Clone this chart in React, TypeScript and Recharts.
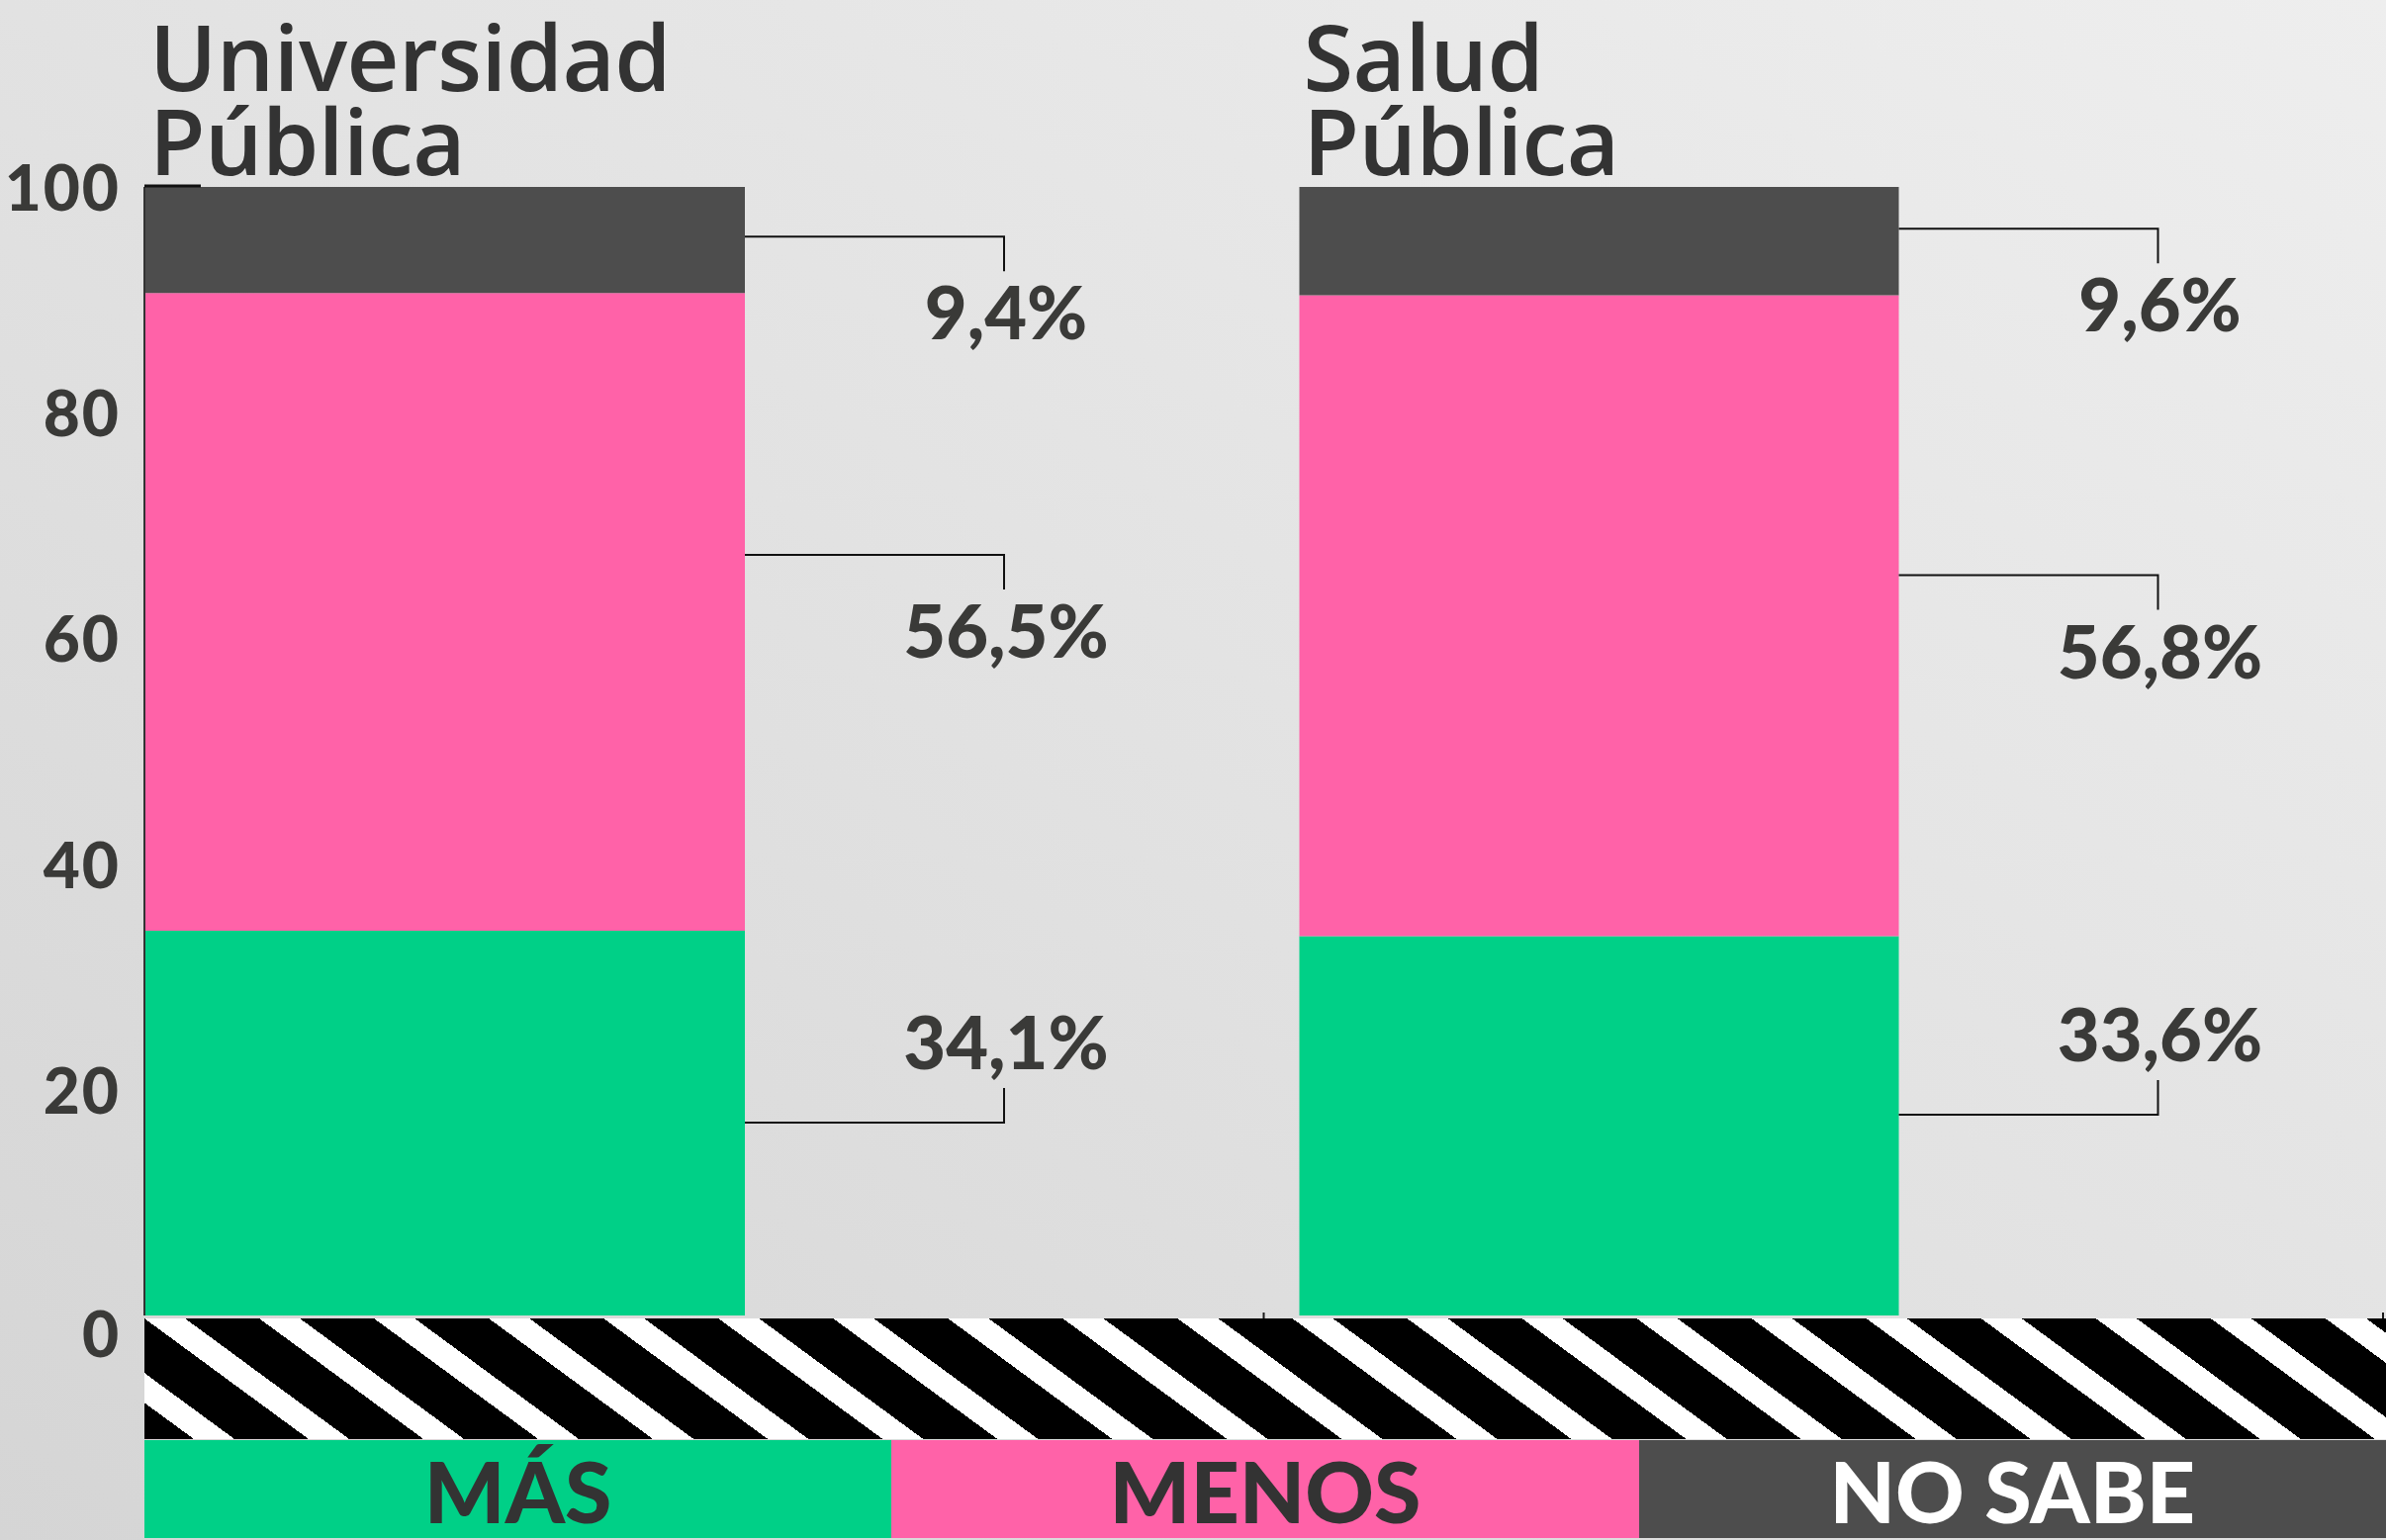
import React from 'react';
import { BarChart, Bar, XAxis, YAxis, LabelList } from 'recharts';

// ---------- data ----------
const categories = ['Universidad Pública', 'Salud Pública'];
const mas = [34.1, 33.6];
const menos = [56.5, 56.8];
const noSabe = [9.4, 9.6];
// levels (in % units) where each leader line leaves its bar segment
const anchorMas = [17.1, 17.8];
const anchorMenos = [67.4, 65.6];
const anchorNoSabe = [95.6, 96.3];
const yTicks = [0, 20, 40, 60, 80, 100];
const seriesNames = ['MÁS', 'MENOS', 'NO SABE'];

// ---------- style ----------
const W = 2412;
const H = 1557;
const GREEN = '#00d087';
const PINK = '#ff62a8';
const GRAY = '#4d4d4d';
const TEXT = '#3a3a38';
const MARGIN = { top: 189, right: 3, bottom: 197, left: 0 };
const YAXIS_W = 146;
const PLOT_W = W - MARGIN.left - YAXIS_W - MARGIN.right;
const HALF_BAND = PLOT_W / categories.length / 2;
const BAR_SIZE = 606;
const LEADER_LEN = 262;

const data = categories.map((name, i) => ({
  name,
  mas: mas[i],
  menos: menos[i],
  noSabe: noSabe[i],
}));

const starts = {
  mas: categories.map(() => 0),
  menos: categories.map((_, i) => mas[i]),
  noSabe: categories.map((_, i) => mas[i] + menos[i]),
};

const fmt = (v: number) => v.toFixed(1).replace('.', ',') + '%';

const box = (props: any) => {
  const vb = props.viewBox && props.viewBox.width !== undefined ? props.viewBox : props;
  return {
    x: Number(vb.x),
    y: Number(vb.y),
    width: Number(vb.width),
    height: Number(vb.height),
  };
};

const makeLeader =
  (values: number[], anchors: number[], segStarts: number[], dir: 'up' | 'down') =>
  (props: any) => {
    const index = props.index ?? 0;
    const { x, y, width, height } = box(props);
    const v = values[index];
    if (!isFinite(x) || !isFinite(y) || !v) return null;
    const ppu = height / v;
    const ay = y + height - (anchors[index] - segStarts[index]) * ppu;
    const x0 = x + width;
    const x1 = x0 + LEADER_LEN;
    const y1 = dir === 'up' ? ay - 35 : ay + 35;
    const ty = dir === 'up' ? ay - 54 : ay + 104;
    return (
      <g>
        <path d={`M${x0},${ay}H${x1}V${y1}`} stroke="#111" strokeWidth={2} fill="none" />
        <text
          x={x1 + 2}
          y={ty}
          textAnchor="middle"
          fontFamily="Lato, 'Open Sans', sans-serif"
          fontWeight={900}
          fontSize={74}
          fill={TEXT}
        >
          {fmt(v)}
        </text>
      </g>
    );
  };

const TitleLabel = (props: any) => {
  const index = props.index ?? 0;
  const { x, y } = box(props);
  if (!isFinite(x) || !isFinite(y)) return null;
  const words = categories[index].split(' ');
  const first = words[0];
  const rest = words.slice(1).join(' ');
  const common = {
    fontFamily: "'Open Sans', sans-serif",
    fontWeight: 600,
    fontSize: 92,
    fill: '#333333',
    letterSpacing: -0.5,
    textAnchor: 'start' as const,
  };
  return (
    <g>
      <text x={x + 4} y={y - 97} {...common}>
        {first}
      </text>
      <text x={x + 4} y={y - 12} {...common}>
        {rest}
      </text>
    </g>
  );
};

const YTick = (props: any) => {
  const { x, y, payload } = props;
  const v = payload.value;
  const top = v === yTicks[yTicks.length - 1];
  return (
    <g>
      {top && <line x1={x + 24} x2={x + 24 + 57} y1={y - 1} y2={y - 1} stroke="#111" strokeWidth={3} />}
      <text
        x={x}
        y={y + (v === 0 ? 42 : 24)}
        textAnchor="end"
        fontFamily="Lato, sans-serif"
        fontWeight={900}
        fontSize={64}
        letterSpacing={2}
        fill={TEXT}
      >
        {v}
      </text>
    </g>
  );
};

const XTick = (props: any) => {
  const { x, y } = props;
  const bx = x + HALF_BAND;
  return <line x1={bx} x2={bx} y1={y} y2={y - 33} stroke="#1a1a1a" strokeWidth={2} />;
};

const legendColors = [GREEN, PINK, GRAY];
const legendText = ['#333333', '#333333', '#ffffff'];

export default function App() {
  return (
    <div
      style={{
        position: 'absolute',
        left: 0,
        top: 0,
        width: W,
        height: H,
        overflow: 'hidden',
        background: 'linear-gradient(to top right, #d5d5d5 0%, #e2e2e2 50%, #eeeeee 100%)',
      }}
    >
      <BarChart width={W} height={H} data={data} margin={MARGIN} barGap={0}>
        <XAxis
          xAxisId="bars"
          dataKey="name"
          hide
          padding={{ left: -279, right: 209 }}
        />
        <XAxis
          xAxisId="main"
          dataKey="name"
          height={30}
          axisLine={{ stroke: '#8a8a8a', strokeWidth: 2 }}
          tickLine={false}
          tickSize={0}
          tickMargin={0}
          interval={0}
          tick={<XTick />}
        />
        <YAxis
          width={YAXIS_W}
          domain={[0, 100]}
          ticks={yTicks}
          interval={0}
          axisLine={{ stroke: '#333333', strokeWidth: 2 }}
          tickLine={false}
          tickSize={0}
          tickMargin={24}
          tick={<YTick />}
        />
        <Bar
          xAxisId="bars"
          dataKey="mas"
          name={seriesNames[0]}
          stackId="a"
          fill={GREEN}
          barSize={BAR_SIZE}
          isAnimationActive={false}
        >
          <LabelList dataKey="mas" content={makeLeader(mas, anchorMas, starts.mas, 'up')} />
        </Bar>
        <Bar
          xAxisId="bars"
          dataKey="menos"
          name={seriesNames[1]}
          stackId="a"
          fill={PINK}
          barSize={BAR_SIZE}
          isAnimationActive={false}
        >
          <LabelList dataKey="menos" content={makeLeader(menos, anchorMenos, starts.menos, 'down')} />
        </Bar>
        <Bar
          xAxisId="bars"
          dataKey="noSabe"
          name={seriesNames[2]}
          stackId="a"
          fill={GRAY}
          barSize={BAR_SIZE}
          isAnimationActive={false}
        >
          <LabelList dataKey="noSabe" content={makeLeader(noSabe, anchorNoSabe, starts.noSabe, 'down')} />
          <LabelList dataKey="name" content={TitleLabel} />
        </Bar>
      </BarChart>

      {/* hatched band */}
      <div
        style={{
          position: 'absolute',
          left: 146,
          top: 1333,
          width: W - 146,
          height: 122,
          background:
            'repeating-linear-gradient(36.3deg, #000 0px, #000 29.6px, #fff 29.6px, #fff 53.9px, #000 53.9px, #000 68.7px)',
        }}
      />

      {/* legend */}
      <div
        style={{
          position: 'absolute',
          left: 146,
          top: 1456,
          width: W - 146,
          height: 99,
          display: 'flex',
        }}
      >
        {seriesNames.map((s, i) => (
          <div
            key={s}
            style={{
              flex: 1,
              height: 99,
              background: legendColors[i],
              color: legendText[i],
              textAlign: 'center',
              fontFamily: 'Lato, sans-serif',
              fontWeight: 900,
              fontSize: 86,
              lineHeight: '102px',
              whiteSpace: 'nowrap',
            }}
          >
            {s}
          </div>
        ))}
      </div>
    </div>
  );
}
